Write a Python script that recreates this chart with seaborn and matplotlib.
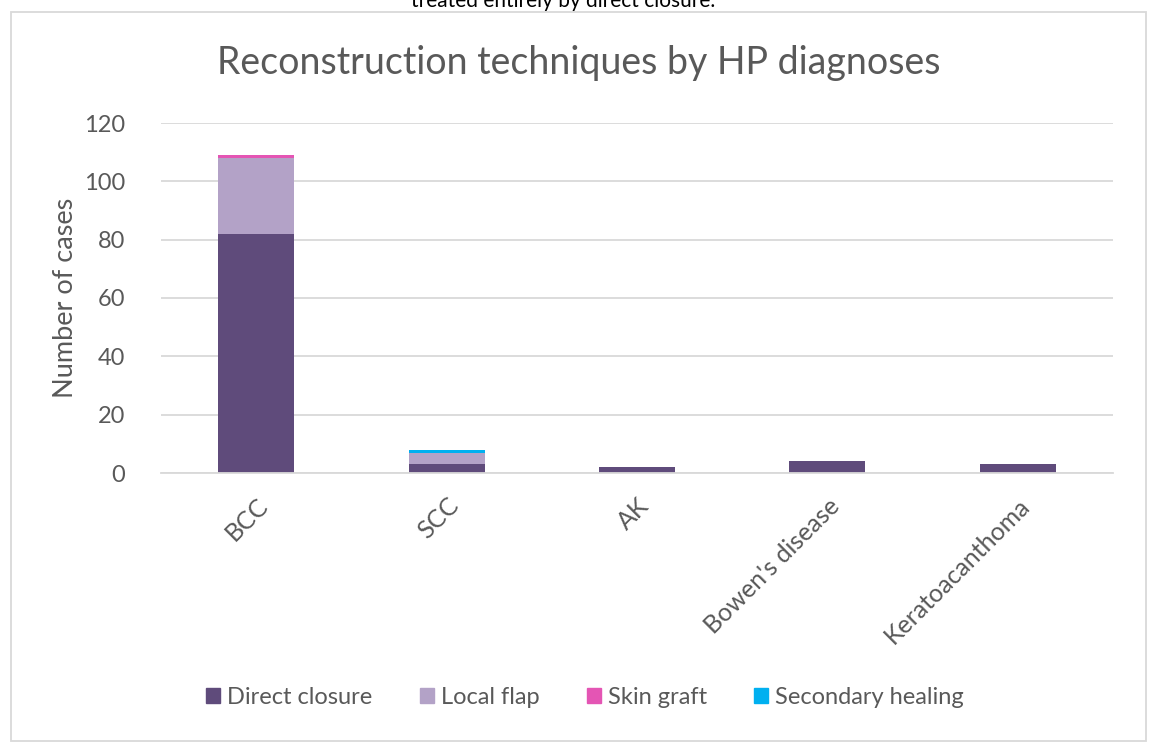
import matplotlib
matplotlib.use('Agg')
import matplotlib.pyplot as plt
import matplotlib.patches as mpatches
import numpy as np
import pandas as pd
import seaborn as sns

categories = ['BCC', 'SCC', 'AK', "Bowen's disease", 'Keratoacanthoma']
series = ['Direct closure', 'Local flap', 'Skin graft', 'Secondary healing']
direct_closure = [82, 3, 2, 4, 3]
local_flap = [26, 4, 0, 0, 0]
skin_graft = [1, 0, 0, 0, 0]
secondary_healing = [0, 1, 0, 0, 0]
colors = ['#5F4B7B', '#B3A2C7', '#E455B4', '#00B0F0']

sns.set_theme(style='white')
plt.rcParams['font.family'] = ['Lato', 'DejaVu Sans']

TXT = '#595959'
GRID = '#D9D9D9'

df = pd.DataFrame({'category': categories,
		   'Direct closure': direct_closure,
		   'Local flap': local_flap,
		   'Skin graft': skin_graft,
		   'Secondary healing': secondary_healing})
cum = df[series].cumsum(axis=1)

fig = plt.figure(figsize=(11.59, 7.54), dpi=100)
ax = fig.add_axes([161 / 1159, 1 - 473 / 754, 952 / 1159, 350 / 754])

# draw cumulative totals from the top series down so lower ones cover upper
for name, col in reversed(list(zip(series, colors))):
	sns.barplot(x=df['category'], y=cum[name], color=col, width=0.40,
		    saturation=1, ax=ax, order=categories, linewidth=0)

ax.set_ylim(0, 120)
ax.set_yticks(np.arange(0, 121, 20))
ax.set_xlim(-0.5, len(categories) - 0.5)
ax.yaxis.grid(True, color=GRID, linewidth=1.3)
ax.set_axisbelow(True)
for s in ['top', 'right', 'left']:
	ax.spines[s].set_visible(False)
ax.spines['bottom'].set_color(GRID)
ax.spines['bottom'].set_linewidth(1.3)
ax.tick_params(axis='both', length=0, colors=TXT, labelsize=17)
ax.tick_params(axis='y', pad=26)
ax.tick_params(axis='x', pad=15, labelsize=18)
ax.set_xlabel('')
ax.set_ylabel('Number of cases', fontsize=19.5, color=TXT, labelpad=4)
plt.setp(ax.get_xticklabels(), rotation=45, ha='right',
	 rotation_mode='anchor')

fig.text(579 / 1159, 1 - 63 / 754, 'Reconstruction techniques by HP diagnoses',
	 ha='center', va='center', fontsize=27, color=TXT)
fig.text(563 / 1159, 1 - 7 / 754, 'treated entirely by direct closure.',
	 ha='center', va='baseline', fontsize=15, color='black')

handles = [mpatches.Patch(color=c, label=n) for n, c in zip(series, colors)]
fig.legend(handles=handles, loc='center', bbox_to_anchor=(585 / 1159, 1 - 697 / 754),
	   ncol=4, frameon=False, fontsize=17, handlelength=0.6,
	   handleheight=0.6, handletextpad=0.3, columnspacing=2.0,
	   labelcolor=TXT)

border = mpatches.Rectangle((11 / 1159, 1 - 741 / 754), 1135 / 1159, 729 / 754,
			    transform=fig.transFigure, fill=False,
			    edgecolor=GRID, linewidth=1.3)
fig.add_artist(border)

fig.savefig('out.png', dpi=100)
